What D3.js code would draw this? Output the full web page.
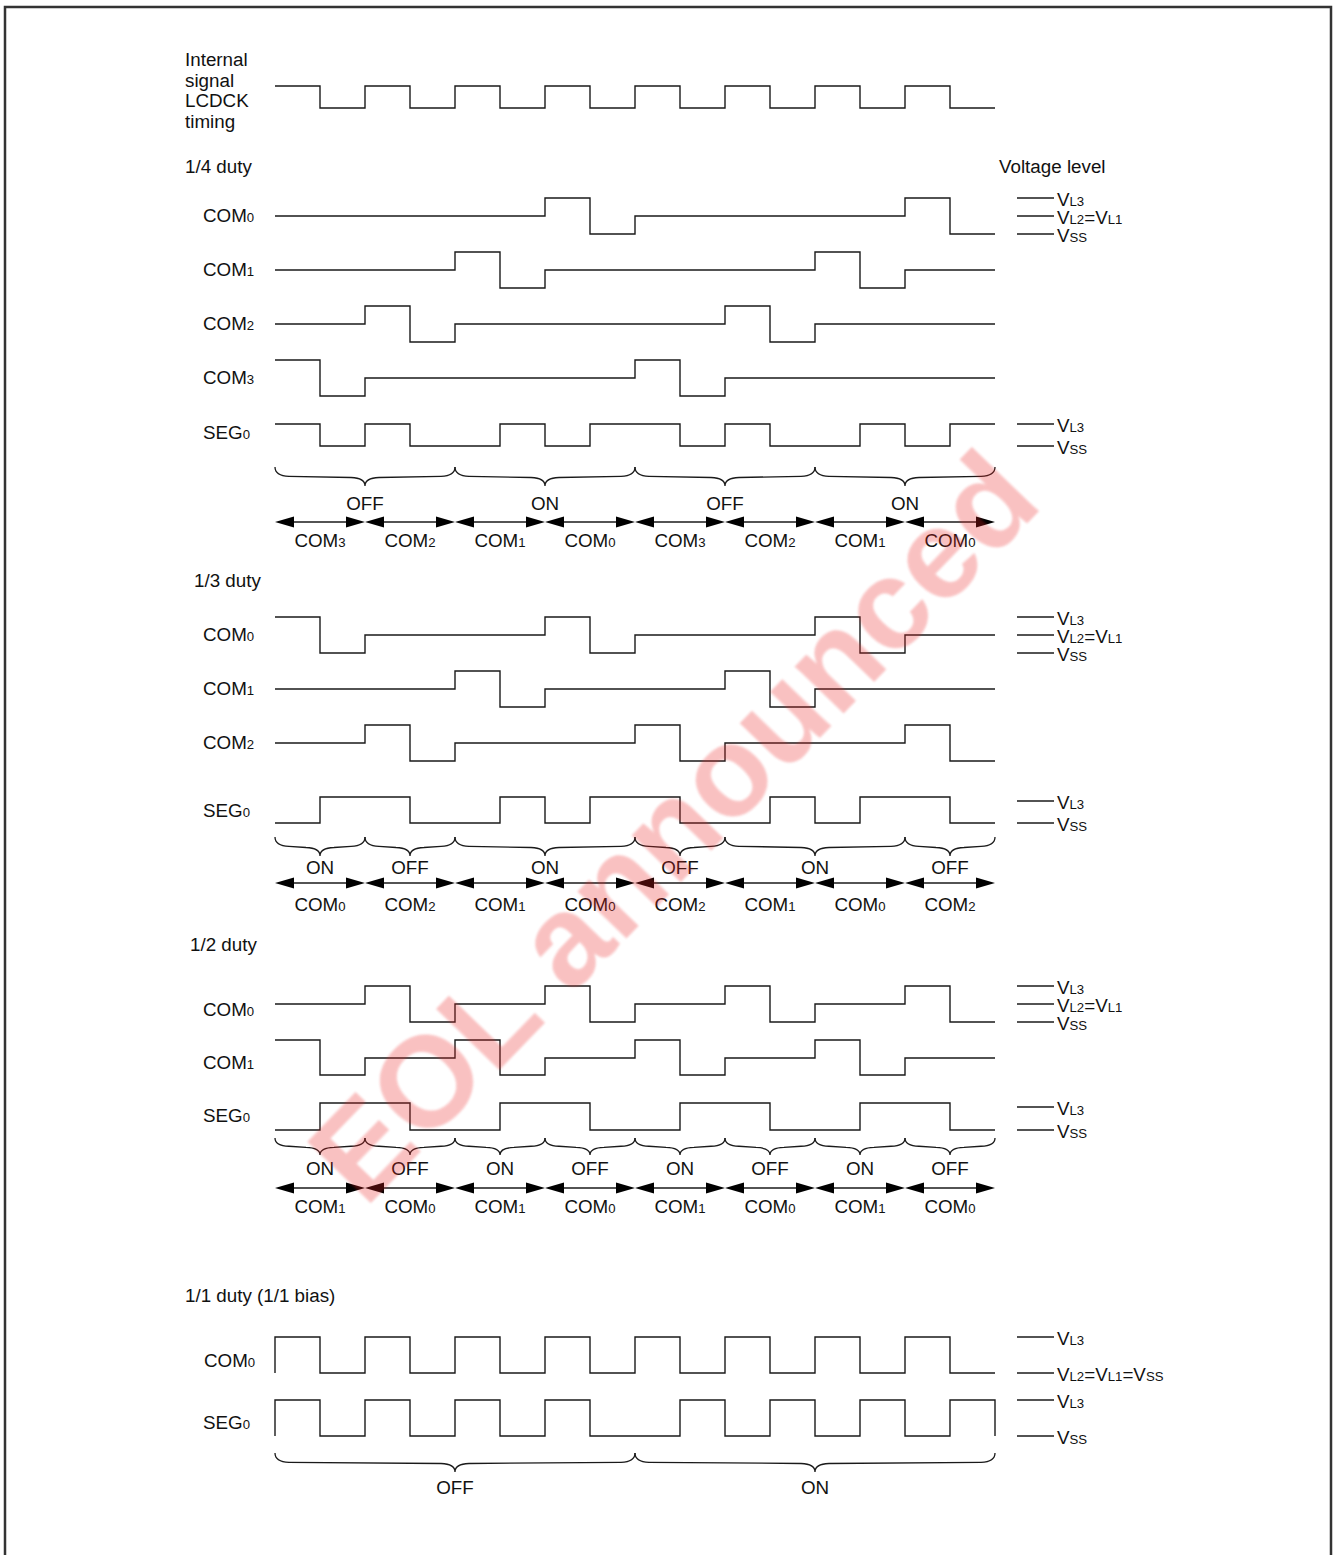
<!DOCTYPE html>
<html>
<head>
<meta charset="utf-8">
<script src="https://cdn.jsdelivr.net/npm/d3@7"></script>
<style>
  body { margin: 0; background: #fff; }
  text { font-family: "Liberation Sans", Arial, sans-serif; fill: #111; }
</style>
</head>
<body>
<svg id="chart"></svg>
<script>
// half-period levels: 0 = VSS, 1 = VL2=VL1, 2 = VL3 (two-level rows: 0 low, 1 high)
const lcdck = [1, 0, 1, 0, 1, 0, 1, 0, 1, 0, 1, 0, 1, 0, 1, 0]

const duty4Com0 = [1, 1, 1, 1, 1, 1, 2, 0, 1, 1, 1, 1, 1, 1, 2, 0]
const duty4Com1 = [1, 1, 1, 1, 2, 0, 1, 1, 1, 1, 1, 1, 2, 0, 1, 1]
const duty4Com2 = [1, 1, 2, 0, 1, 1, 1, 1, 1, 1, 2, 0, 1, 1, 1, 1]
const duty4Com3 = [2, 0, 1, 1, 1, 1, 1, 1, 2, 0, 1, 1, 1, 1, 1, 1]
const duty4Seg0 = [1, 0, 1, 0, 0, 1, 0, 1, 1, 0, 1, 0, 0, 1, 0, 1]
const duty4States = ['OFF', 'ON', 'OFF', 'ON']
const duty4Spans = [4, 4, 4, 4]
const duty4Frames = ['COM{3}', 'COM{2}', 'COM{1}', 'COM{0}', 'COM{3}', 'COM{2}', 'COM{1}', 'COM{0}']

const duty3Com0 = [2, 0, 1, 1, 1, 1, 2, 0, 1, 1, 1, 1, 2, 0, 1, 1]
const duty3Com1 = [1, 1, 1, 1, 2, 0, 1, 1, 1, 1, 2, 0, 1, 1, 1, 1]
const duty3Com2 = [1, 1, 2, 0, 1, 1, 1, 1, 2, 0, 1, 1, 1, 1, 2, 0]
const duty3Seg0 = [0, 1, 1, 0, 0, 1, 0, 1, 1, 0, 0, 1, 0, 1, 1, 0]
const duty3States = ['ON', 'OFF', 'ON', 'OFF', 'ON', 'OFF']
const duty3Spans = [2, 2, 4, 2, 4, 2]
const duty3Frames = ['COM{0}', 'COM{2}', 'COM{1}', 'COM{0}', 'COM{2}', 'COM{1}', 'COM{0}', 'COM{2}']

const duty2Com0 = [1, 1, 2, 0, 1, 1, 2, 0, 1, 1, 2, 0, 1, 1, 2, 0]
const duty2Com1 = [2, 0, 1, 1, 2, 0, 1, 1, 2, 0, 1, 1, 2, 0, 1, 1]
const duty2Seg0 = [0, 1, 1, 0, 0, 1, 1, 0, 0, 1, 1, 0, 0, 1, 1, 0]
const duty2States = ['ON', 'OFF', 'ON', 'OFF', 'ON', 'OFF', 'ON', 'OFF']
const duty2Spans = [2, 2, 2, 2, 2, 2, 2, 2]
const duty2Frames = ['COM{1}', 'COM{0}', 'COM{1}', 'COM{0}', 'COM{1}', 'COM{0}', 'COM{1}', 'COM{0}']

const duty1Com0 = [1, 0, 1, 0, 1, 0, 1, 0, 1, 0, 1, 0, 1, 0, 1, 0]
const duty1Seg0 = [1, 0, 1, 0, 1, 0, 1, 0, 0, 1, 0, 1, 0, 1, 0, 1]
const duty1States = ['OFF', 'ON']
const duty1Spans = [8, 8]

const WIDTH = 1335
const HEIGHT = 1555
const FONT = 18.8
const SUB = 13.2
const INK = '#1a1a1a'

const svg = d3.select('#chart').attr('width', WIDTH).attr('height', HEIGHT)

const x = d3.scaleLinear().domain([0, 16]).range([275, 995])

// text with {subscript} parts
function rich (g, str, px, py, anchor) {
  const t = g.append('text')
    .attr('x', px).attr('y', py)
    .attr('text-anchor', anchor || 'start')
    .style('font-size', FONT + 'px')
  str.split(/\{([^}]*)\}/).forEach((part, i) => {
    if (!part) return
    t.append('tspan').text(part).style('font-size', (i % 2 ? SUB : FONT) + 'px')
  })
  return t
}

function wave (g, levels, ys, opts = {}) {
  const y = d3.scaleLinear().domain(d3.range(ys.length)).range(ys)
  const pts = levels.map((v, i) => [i, v])
  pts.push([16, levels[levels.length - 1]])
  if (opts.lead != null) pts.unshift([0, opts.lead])
  if (opts.tail != null) pts.push([16, opts.tail])
  const line = d3.line().x(d => x(d[0])).y(d => y(d[1])).curve(d3.curveStepAfter)
  g.append('path').attr('d', line(pts))
    .attr('fill', 'none').attr('stroke', INK).attr('stroke-width', 1.4)
}

function markers (g, list) {
  list.forEach(m => {
    g.append('line').attr('x1', 1017).attr('x2', 1054).attr('y1', m.y).attr('y2', m.y)
      .attr('stroke', INK).attr('stroke-width', 1.4)
    rich(g, m.t, 1057, m.y + 7.5)
  })
}

function braces (g, states, spans, top, tip, labelY) {
  let s = 0
  states.forEach((st, i) => {
    const x0 = x(s)
    const x1 = x(s + spans[i])
    const m = (x0 + x1) / 2
    const mid = top + (tip - top) * 0.52
    const q = Math.min(14, (x1 - x0) / 6)
    const d = `M${x0},${top} Q${x0},${mid - 1} ${x0 + q},${mid - 0.6} L${m - q},${mid + 0.6} Q${m},${mid + 1} ${m},${tip}` +
      ` Q${m},${mid + 1} ${m + q},${mid + 0.6} L${x1 - q},${mid - 0.6} Q${x1},${mid - 1} ${x1},${top}`
    g.append('path').attr('d', d).attr('fill', 'none').attr('stroke', INK).attr('stroke-width', 1.3)
    rich(g, st, m, labelY, 'middle')
    s += spans[i]
  })
}

function arrows (g, frames, ay, labelY) {
  frames.forEach((f, i) => {
    const x0 = x(i * 2)
    const x1 = x(i * 2 + 2)
    g.append('line').attr('x1', x0 + 10).attr('x2', x1 - 10).attr('y1', ay).attr('y2', ay)
      .attr('stroke', INK).attr('stroke-width', 1.4)
    g.append('path').attr('d', `M${x0},${ay} L${x0 + 19},${ay - 5.5} L${x0 + 19},${ay + 5.5} Z`).attr('fill', '#000')
    g.append('path').attr('d', `M${x1},${ay} L${x1 - 19},${ay - 5.5} L${x1 - 19},${ay + 5.5} Z`).attr('fill', '#000')
    rich(g, f, (x0 + x1) / 2, labelY, 'middle')
  })
}

const g = svg.append('g')

// frame
g.append('path').attr('d', 'M5,1560 V7 H1331 V1560')
  .attr('fill', 'none').attr('stroke', '#333').attr('stroke-width', 2.5)

// LCDCK
;['Internal', 'signal', 'LCDCK', 'timing'].forEach((t, i) => rich(g, t, 185, 66 + i * 20.7))
wave(g, lcdck, [108, 86])

// 1/4 duty
rich(g, '1/4 duty', 185, 173)
rich(g, 'Voltage level', 999, 173)
wave(g, duty4Com0, [234, 216, 198]); rich(g, 'COM{0}', 203, 222)
wave(g, duty4Com1, [288, 270, 252]); rich(g, 'COM{1}', 203, 276)
wave(g, duty4Com2, [342, 324, 306]); rich(g, 'COM{2}', 203, 330)
wave(g, duty4Com3, [396, 378, 360]); rich(g, 'COM{3}', 203, 384)
wave(g, duty4Seg0, [446, 424]); rich(g, 'SEG{0}', 203, 439)
markers(g, [{ y: 198, t: 'V{L3}' }, { y: 216, t: 'V{L2}=V{L1}' }, { y: 234, t: 'V{SS}' },
  { y: 424, t: 'V{L3}' }, { y: 446, t: 'V{SS}' }])
braces(g, duty4States, duty4Spans, 467, 486, 510)
arrows(g, duty4Frames, 522, 547)

// 1/3 duty
rich(g, '1/3 duty', 194, 587)
wave(g, duty3Com0, [653, 635, 617]); rich(g, 'COM{0}', 203, 641)
wave(g, duty3Com1, [707, 689, 671]); rich(g, 'COM{1}', 203, 695)
wave(g, duty3Com2, [761, 743, 725]); rich(g, 'COM{2}', 203, 749)
wave(g, duty3Seg0, [823, 797]); rich(g, 'SEG{0}', 203, 817)
markers(g, [{ y: 617, t: 'V{L3}' }, { y: 635, t: 'V{L2}=V{L1}' }, { y: 653, t: 'V{SS}' },
  { y: 801, t: 'V{L3}' }, { y: 823, t: 'V{SS}' }])
braces(g, duty3States, duty3Spans, 837, 856, 874)
arrows(g, duty3Frames, 883, 911)

// 1/2 duty
rich(g, '1/2 duty', 190, 951)
wave(g, duty2Com0, [1022, 1004, 986]); rich(g, 'COM{0}', 203, 1016)
wave(g, duty2Com1, [1075, 1058, 1040]); rich(g, 'COM{1}', 203, 1069)
wave(g, duty2Seg0, [1130, 1103]); rich(g, 'SEG{0}', 203, 1122)
markers(g, [{ y: 986, t: 'V{L3}' }, { y: 1004, t: 'V{L2}=V{L1}' }, { y: 1022, t: 'V{SS}' },
  { y: 1107, t: 'V{L3}' }, { y: 1130, t: 'V{SS}' }])
braces(g, duty2States, duty2Spans, 1138, 1155, 1175)
arrows(g, duty2Frames, 1188, 1213)

// 1/1 duty
rich(g, '1/1 duty (1/1 bias)', 185, 1302)
wave(g, duty1Com0, [1373, 1337], { lead: 0 }); rich(g, 'COM{0}', 204, 1367)
wave(g, duty1Seg0, [1436, 1400], { lead: 0, tail: 0 }); rich(g, 'SEG{0}', 203, 1429)
markers(g, [{ y: 1337, t: 'V{L3}' }, { y: 1373, t: 'V{L2}=V{L1}=V{SS}' },
  { y: 1400, t: 'V{L3}' }, { y: 1436, t: 'V{SS}' }])
braces(g, duty1States, duty1Spans, 1453, 1472, 1494)

// watermark
const defs = svg.append('defs')
defs.append('filter').attr('id', 'soft').append('feGaussianBlur').attr('stdDeviation', 1.2)
svg.append('text')
  .attr('transform', 'translate(1045,505) rotate(-46)')
  .attr('text-anchor', 'end')
  .style('font-size', '128px')
  .style('font-weight', 'bold')
  .style('fill', 'rgb(236,40,40)')
  .style('opacity', 0.28)
  .attr('filter', 'url(#soft)')
  .text('EOL announced')
</script>
</body>
</html>
